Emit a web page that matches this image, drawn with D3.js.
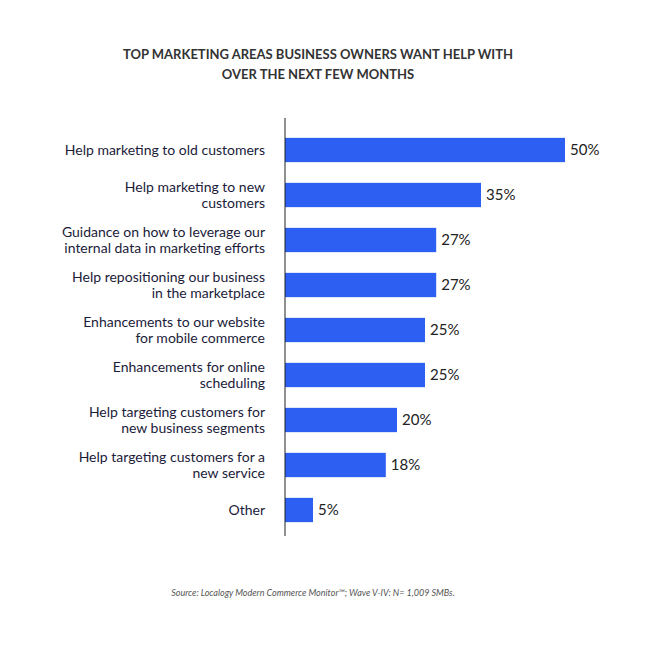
<!DOCTYPE html>
<html><head><meta charset="utf-8">
<script src="https://cdn.jsdelivr.net/npm/d3@7"></script>
<style>body{margin:0;background:#fff}text{font-family:Lato,"Open Sans",sans-serif}</style>
</head><body><svg id="c" width="647" height="658"></svg>
<script>
const categories=[["Help marketing to old customers"],["Help marketing to new","customers"],["Guidance on how to leverage our","internal data in marketing efforts"],["Help repositioning our business","in the marketplace"],["Enhancements to our website","for mobile commerce"],["Enhancements for online","scheduling"],["Help targeting customers for","new business segments"],["Help targeting customers for a","new service"],["Other"]];
const values=[50,35,27,27,25,25,20,18,5];
const svg=d3.select("#c");
const x=d3.scaleLinear().domain([0,50]).range([285,565]);
const y=d3.scaleBand().domain(d3.range(values.length)).range([127.5,532.5]).paddingInner(0.46).paddingOuter(0.23);
svg.append("text").attr("x",318).attr("y",59).attr("text-anchor","middle").attr("font-weight","bold").attr("font-size",13).attr("fill","#333").text("TOP MARKETING AREAS BUSINESS OWNERS WANT HELP WITH");
svg.append("text").attr("x",318).attr("y",79).attr("text-anchor","middle").attr("font-weight","bold").attr("font-size",13).attr("fill","#333").text("OVER THE NEXT FEW MONTHS");
const g=svg.selectAll("g.b").data(values).join("g");
g.append("rect").attr("x",x(0)).attr("y",(d,i)=>y(i)).attr("width",d=>x(d)-x(0)).attr("height",y.bandwidth()).attr("fill","#2c5ff2");
g.append("text").attr("x",d=>x(d)+5).attr("y",(d,i)=>y(i)+y.bandwidth()/2+5).attr("font-size",15).attr("fill","#222").text(d=>d+"%");
categories.forEach((c,i)=>{const cy=y(i)+y.bandwidth()/2;const n=c.length;
 c.forEach((t,j)=>svg.append("text").attr("x",265).attr("y",cy+5+(j-(n-1)/2)*16).attr("text-anchor","end").attr("font-size",14).attr("fill","#1b1b3a").text(t));});
svg.append("line").attr("x1",285).attr("x2",285).attr("y1",118).attr("y2",536).attr("stroke","#222").attr("stroke-width",1);
svg.append("text").attr("x",313).attr("y",596).attr("text-anchor","middle").attr("font-size",9).attr("font-style","italic").attr("fill","#555").text("Source: Localogy Modern Commerce Monitor™; Wave V-IV: N= 1,009 SMBs.");
</script></body></html>
